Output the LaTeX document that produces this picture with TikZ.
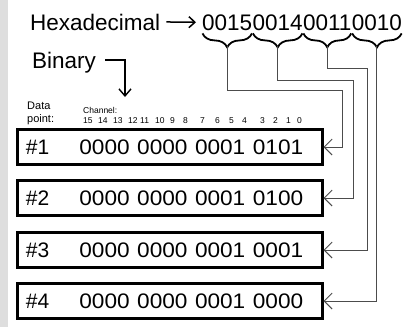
\documentclass[tikz,border=0pt]{standalone}
\usepackage{fontspec}
\setmainfont{Liberation Sans}
\usetikzlibrary{arrows.meta,decorations.pathreplacing,calc}
\begin{document}
\begin{tikzpicture}[x=1pt,y=-1pt,
  lbl/.style={inner sep=0pt, anchor=base west},
  big/.style={font=\fontsize{22.5}{26}\selectfont},
  databox/.style={draw, line width=3pt, minimum height=35pt, text width=287pt, inner xsep=9pt, inner ysep=0pt, align=left, font=\fontsize{21}{24}\selectfont},
  conn/.style={draw=black!70, line width=0.9pt, -{Straight Barb[length=8pt,width=16pt,line width=0.9pt]}},
  titlearrow/.style={line width=1.5pt, -{Straight Barb[length=6pt,width=11pt,line width=1.5pt]}},
  bracestyle/.style={decorate, decoration={brace,mirror,amplitude=14pt}, line width=1.8pt},
  small/.style={font=\fontsize{11}{13}\selectfont},
  tiny/.style={font=\fontsize{8.5}{10}\selectfont},
]
\useasboundingbox (0,0) rectangle (405,327);
\fill[black!13] (0,0) rectangle (8,327);

% header
\node[lbl,big] (hexl) at (30,30) {Hexadecimal};
\node[lbl,big] (g1) at (202,30) {0015};
\node[lbl,big] (g2) at (g1.base east) {0014};
\node[lbl,big] (g3) at (g2.base east) {0011};
\node[lbl,big] (g4) at (g3.base east) {0010};
\draw[titlearrow] ([xshift=6pt]hexl.east) -- ([xshift=-6pt]g1.west);

\foreach \g in {1,2,3,4}{
  \draw[bracestyle] ([xshift=0.5pt,yshift=-3pt]g\g.south west) -- ([xshift=-0.5pt,yshift=-3pt]g\g.south east);
  \coordinate (tip\g) at ([yshift=-16pt]g\g.south);
}

\node[lbl,big] (binl) at (32,68) {Binary};
\coordinate (bintip) at (125,97);
\draw[line width=1.4pt, -{Straight Barb[length=7pt,width=12pt,line width=1.4pt]}] ([xshift=9pt,yshift=8pt]binl.base east) -| (bintip);

% labels
\node[small, inner sep=0pt, anchor=north west, align=left] (dp) at (27,102) {Data\\point:};
\node[lbl,tiny] (ch) at (83,113) {Channel:};
\foreach \n/\x in {15/83,14/98,13/113,12/128,11/140,10/155,9/170,8/183,7/200,6/215,5/229,4/242,3/260,2/273,1/286,0/297}{
  \node[lbl,tiny] (c\n) at (\x,123) {\n};
}

% data boxes
\node[databox] (b1) at (169.5,147) {\#1\hspace{30pt}\scalebox{1.077}[1]{0000 0000 0001 0101}};
\node[databox] (b2) at (169.5,198) {\#2\hspace{30pt}\scalebox{1.077}[1]{0000 0000 0001 0100}};
\node[databox] (b3) at (169.5,250) {\#3\hspace{30pt}\scalebox{1.077}[1]{0000 0000 0001 0001}};
\node[databox] (b4) at (169.5,301) {\#4\hspace{30pt}\scalebox{1.077}[1]{0000 0000 0001 0000}};

% connectors
\draw[conn] (tip1) |- (342,90) |- (b1.east);
\draw[conn] (tip2) |- (353,80) |- (b2.east);
\draw[conn] (tip3) |- (367,68) |- (b3.east);
\draw[conn] (tip4) |- (b4.east);
\end{tikzpicture}
\end{document}
